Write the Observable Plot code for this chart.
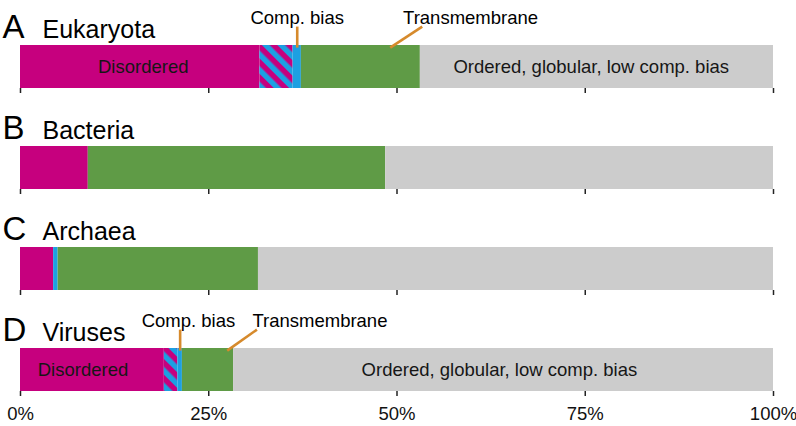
<!DOCTYPE html>
<html>
<head>
<meta charset="utf-8">
<script src="https://cdn.jsdelivr.net/npm/d3@7"></script>
<script src="https://cdn.jsdelivr.net/npm/@observablehq/plot@0.6"></script>
<style>
  html, body { margin: 0; padding: 0; background: #ffffff; }
</style>
</head>
<body>
<div id="chart"></div>
<script>
// ---- Data (percent of residues) ----
const groups = ["Eukaryota", "Bacteria", "Archaea", "Viruses"];
const letters = ["A", "B", "C", "D"];
const categories = ["Disordered", "Comp. bias + disordered", "Comp. bias", "Transmembrane", "Ordered, globular, low comp. bias"];
const eukaryota = [31.8, 4.4, 1.1, 15.8, 46.9];
const bacteria  = [9.0, 0, 0, 39.5, 51.5];
const archaea   = [4.4, 0, 0.6, 26.6, 68.4];
const viruses   = [19.1, 1.8, 0.6, 6.8, 71.7];
const xTicks = [0, 25, 50, 75, 100];

// annotation anchors (in percent units) for the labelled panels
const annGroups = ["Eukaryota", "Viruses"];
const disorderedLabelX = [16.3, 8.3];
const orderedLabelX = [75.8, 63.6];
const compBiasLineX = [36.75, 21.2];
const compBiasLabelX = [36.75, 22.3];
const tmLineLowX = [49.1, 27.45];
const tmLineHighX = [53.35, 31.4];
const tmLabelX = [50.8, 30.8];

// ---- styles ----
const MAGENTA = "#c6007e", BLUE = "#1ca0e2", GREEN = "#5f9b46", GRAY = "#cccccc", ORANGE = "#d68a2c";
const colorRange = [MAGENTA, "url(#hatch)", BLUE, GREEN, GRAY];

// ---- build tables ----
const series = [eukaryota, bacteria, archaea, viruses];
const segments = groups.flatMap((g, i) => {
  let acc = 0;
  return categories.map((c, j) => {
    const v = series[i][j];
    const s = {group: g, category: c, x1: acc, x2: acc + v};
    acc += v;
    return s;
  }).filter(d => d.x2 > d.x1);
});
const titles = groups.map((g, i) => ({group: g, letter: letters[i], name: g}));
const ann = annGroups.map((g, i) => ({
  group: g,
  dis: disorderedLabelX[i], ord: orderedLabelX[i],
  cbLine: compBiasLineX[i], cbLabel: compBiasLabelX[i],
  tmLow: tmLineLowX[i], tmHigh: tmLineHighX[i], tmLabel: tmLabelX[i]
}));

const FONT = "'Liberation Sans', Arial, Helvetica, sans-serif";

const chart = Plot.plot({
  width: 796,
  height: 426,
  marginTop: 44,
  marginBottom: 34,
  marginLeft: 20,
  marginRight: 23,
  style: {fontFamily: FONT, fontSize: "18.5px", color: "#000", background: "#fff"},
  x: {domain: [0, 100], label: null},
  y: {domain: [0, 1], axis: null},
  fy: {domain: groups, axis: null, paddingInner: 0.577, paddingOuter: 0, label: null},
  color: {domain: categories, range: colorRange},
  marks: [
    Plot.rect(segments, {fy: "group", x1: "x1", x2: "x2", y1: 0, y2: 1, fill: "category"}),
    // small ticks under every bar
    Plot.axisX({ticks: xTicks, facetAnchor: null, tickSize: 5, tickFormat: () => "", strokeWidth: 1.5, stroke: "#222", label: null}),
    // labels only at the bottom
    Plot.axisX({ticks: xTicks, tickSize: 0, tickPadding: 15, tickFormat: d => d + "%", fontSize: 18.5, fill: "#111", label: null}),
    // panel titles
    Plot.text(titles, {fy: "group", text: "letter", frameAnchor: "top-left", textAnchor: "start", lineAnchor: "bottom", dx: -18, dy: -8, fontSize: 33, fill: "#000"}),
    Plot.text(titles, {fy: "group", text: "name", frameAnchor: "top-left", textAnchor: "start", lineAnchor: "bottom", dx: 22, dy: -8, fontSize: 25, fill: "#000"}),
    // in-bar labels
    Plot.text(ann, {fy: "group", x: "dis", text: () => "Disordered", frameAnchor: "middle", fontSize: 18.5, fill: "#161616"}),
    Plot.text(ann, {fy: "group", x: "ord", text: () => "Ordered, globular, low comp. bias", frameAnchor: "middle", fontSize: 18.5, fill: "#161616"}),
    // leader lines
    Plot.link(ann, {fy: "group", x1: "cbLine", x2: "cbLine", y1: 0.95, y2: 1.44, stroke: ORANGE, strokeWidth: 2.6}),
    Plot.link(ann, {fy: "group", x1: "tmLow", x2: "tmHigh", y1: 0.95, y2: 1.44, stroke: ORANGE, strokeWidth: 2.6}),
    // leader labels
    Plot.text(ann, {fy: "group", x: "cbLabel", text: () => "Comp. bias", frameAnchor: "top", lineAnchor: "bottom", dy: -22, fontSize: 18.5, fill: "#000"}),
    Plot.text(ann, {fy: "group", x: "tmLabel", text: () => "Transmembrane", frameAnchor: "top", textAnchor: "start", lineAnchor: "bottom", dy: -22, fontSize: 18.5, fill: "#000"})
  ]
});

// hatch pattern for the compositionally biased + disordered part
const svg = chart.tagName.toLowerCase() === "svg" ? chart : chart.querySelector("svg");
const defs = document.createElementNS("http://www.w3.org/2000/svg", "defs");
defs.innerHTML = `<pattern id="hatch" patternUnits="userSpaceOnUse" width="11" height="11" patternTransform="rotate(-45)">
  <rect x="0" y="0" width="11" height="11" fill="${MAGENTA}"></rect>
  <rect x="0" y="0" width="5.5" height="11" fill="${BLUE}"></rect>
</pattern>`;
svg.insertBefore(defs, svg.firstChild);

document.getElementById("chart").appendChild(chart);
</script>
</body>
</html>
